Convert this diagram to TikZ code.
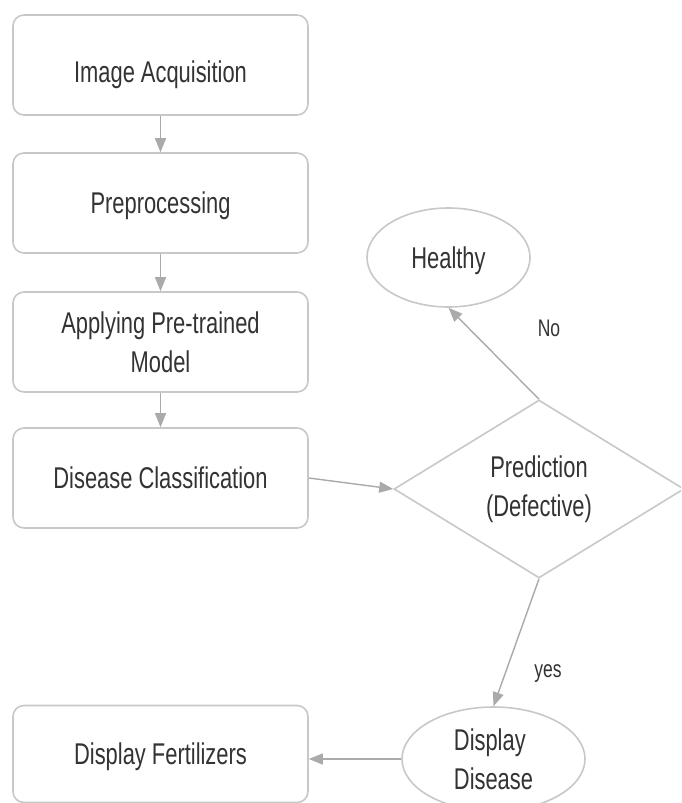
\documentclass[tikz,border=0pt]{standalone}
\usepackage{fontspec}
\setmainfont{Liberation Sans}[FakeStretch=0.73]
\usetikzlibrary{shapes.geometric,arrows.meta}
\definecolor{boxline}{HTML}{C8C8C8}
\definecolor{arrowline}{HTML}{AAAAAA}
\definecolor{txt}{HTML}{333333}
\begin{document}
\begin{tikzpicture}[x=1pt,y=-1pt,
  every node/.style={text=txt, font=\fontsize{30}{39}\selectfont},
  procbox/.style={draw=boxline, line width=1.6pt, rounded corners=11pt, minimum width=295pt, minimum height=100pt, align=center, inner sep=2pt},
  oneline/.style={text depth=0pt},
  ovalnode/.style={draw=boxline, line width=1.6pt, ellipse, inner sep=0pt},
  decision/.style={draw=boxline, line width=1.6pt, diamond, inner sep=0pt, align=center},
  flow/.style={draw=arrowline, line width=1.4pt, -{Triangle[length=14pt,width=11pt]}},
  edgelabel/.style={font=\fontsize{24}{28}\selectfont, text depth=0pt}
]
\useasboundingbox (0,0) rectangle (681,803);
\clip (0,0) rectangle (681,803);
\fill[white] (0,0) rectangle (681,803);

\node[procbox, text height=34pt, text depth=0pt] (b1) at (160.5,65) {Image Acquisition};
\node[procbox, oneline] (b2) at (160.5,203) {Preprocessing};
\node[procbox] (b3) at (160.5,342) {Applying Pre-trained\\Model};
\node[procbox, oneline] (b4) at (160.5,478) {Disease Classification};
\node[procbox, oneline, minimum height=97pt] (b5) at (160.5,754) {Display Fertilizers};

\node[ovalnode, oneline, minimum width=163pt, minimum height=99pt] (h) at (448.5,257.5) {Healthy};
\node[decision, minimum width=290pt, minimum height=178pt, shape aspect=1.63] (d) at (539,489) {Prediction\\(Defective)};
\node[ovalnode, align=left, minimum width=183pt, minimum height=104pt] (dd) at (493.5,759) {Display\\Disease};

\draw[flow] (b1) -- (b2);
\draw[flow] (b2) -- (b3);
\draw[flow] (b3) -- (b4);
\draw[flow] (b4.east) -- (d.west);
\draw[flow] (d.north) -- (h.south);
\draw[flow] (d.south) -- (dd.north);
\draw[flow] (dd.west) -- (dd.west -| b5.east);

\node[edgelabel] (no) at (549,328) {No};
\node[edgelabel] (yes) at (548,671) {yes};
\end{tikzpicture}
\end{document}
